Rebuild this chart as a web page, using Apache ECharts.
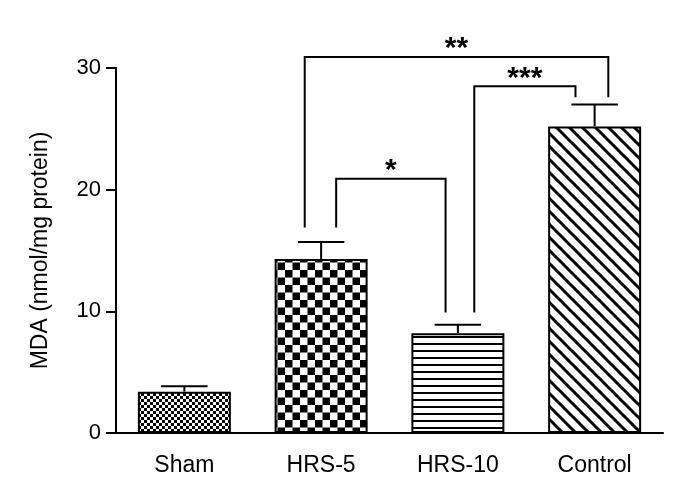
<!DOCTYPE html>
<html>
<head>
<meta charset="utf-8">
<script src="https://cdn.jsdelivr.net/npm/echarts@6/dist/echarts.min.js"></script>
<style>
  html, body { margin: 0; padding: 0; background: #fff; }
  #main { width: 699px; height: 496px; }
</style>
</head>
<body>
<div id="main"></div>
<script>
  // groups and MDA values (nmol/mg protein)
  var categories = ['Sham', 'HRS-5', 'HRS-10', 'Control'];
  var means = [3.4, 14.3, 8.2, 25.2];
  var sem = [0.45, 1.4, 0.7, 1.8];
  var yTicks = [0, 10, 20, 30];

  // significance brackets (x in category units, y in data units)
  var bracketLabels = ['*', '***', '**'];
  var bracketLeftX = [1.11, 2.12, 0.88];
  var bracketRightX = [1.91, 2.86, 3.10];
  var bracketTop = [20.9, 28.5, 30.9];
  var bracketLeftEnd = [16.9, 9.9, 16.9];
  var bracketRightEnd = [9.9, 27.6, 27.6];

  var font = '"Liberation Sans", Arial, sans-serif';

  // fill patterns
  function makeTile(w, h, draw) {
    var c = document.createElement('canvas');
    c.width = w; c.height = h;
    var ctx = c.getContext('2d');
    ctx.fillStyle = '#fff';
    ctx.fillRect(0, 0, w, h);
    ctx.fillStyle = '#000';
    ctx.strokeStyle = '#000';
    draw(ctx);
    return { image: c, repeat: 'repeat' };
  }
  var patterns = [
    makeTile(6, 6, function (ctx) { // fine checker
      ctx.fillRect(0, 0, 3, 3);
      ctx.fillRect(3, 3, 3, 3);
    }),
    makeTile(15, 15, function (ctx) { // coarse checker
      ctx.fillRect(0, 0, 7.5, 7.5);
      ctx.fillRect(7.5, 7.5, 7.5, 7.5);
    }),
    makeTile(8, 7.5, function (ctx) { // horizontal lines
      ctx.fillRect(0, 0, 8, 2);
    }),
    makeTile(13, 13, function (ctx) { // diagonal lines
      ctx.lineWidth = 3;
      [-13, 0, 13].forEach(function (o) {
        ctx.beginPath();
        ctx.moveTo(o - 2, -2);
        ctx.lineTo(o + 15, 15);
        ctx.stroke();
      });
    })
  ];

  var barData = means.map(function (v, i) {
    return { value: v, itemStyle: { color: patterns[i] } };
  });
  var errData = means.map(function (v, i) { return [i, v, v + sem[i]]; });
  var bracketData = bracketLabels.map(function (l, i) {
    return [Math.round(bracketLeftX[i]), bracketLeftX[i], bracketRightX[i],
      bracketTop[i], bracketLeftEnd[i], bracketRightEnd[i]];
  });

  var myChart = echarts.init(document.getElementById('main'));
  var option = {
    animation: false,
    backgroundColor: '#fff',
    grid: { left: 116, right: 36, top: 68, bottom: 63 },
    xAxis: {
      type: 'category',
      data: categories,
      axisLine: { lineStyle: { color: '#000', width: 2 } },
      axisTick: { alignWithLabel: true, length: 10, lineStyle: { color: '#000', width: 2 } },
      axisLabel: { color: '#000', fontSize: 23, fontFamily: font, margin: 21 }
    },
    yAxis: {
      type: 'value',
      min: 0,
      max: 30,
      interval: 10,
      name: 'MDA (nmol/mg protein)',
      nameLocation: 'middle',
      nameGap: 64,
      nameTextStyle: { color: '#000', fontSize: 23, fontFamily: font },
      axisLine: { show: true, lineStyle: { color: '#000', width: 2 } },
      axisTick: { show: true, length: 10, lineStyle: { color: '#000', width: 2 } },
      axisLabel: {
        color: '#000', fontSize: 22, fontFamily: font, margin: 15,
        formatter: function (v) { return yTicks.indexOf(v) >= 0 ? String(v) : ''; }
      },
      splitLine: { show: false }
    },
    series: [
      {
        type: 'custom',
        name: 'error',
        z: 1,
        data: errData,
        encode: { x: 0, y: [1, 2] },
        renderItem: function (params, api) {
          var p = api.coord([api.value(0), api.value(1)]);
          var q = api.coord([api.value(0), api.value(2)]);
          var half = api.size([1, 0])[0] * 0.17;
          var st = { stroke: '#000', lineWidth: 2 };
          return {
            type: 'group',
            children: [
              { type: 'line', shape: { x1: p[0], y1: p[1], x2: q[0], y2: q[1] }, style: st },
              { type: 'line', shape: { x1: q[0] - half, y1: q[1], x2: q[0] + half, y2: q[1] }, style: st }
            ]
          };
        }
      },
      {
        type: 'bar',
        name: 'MDA',
        z: 2,
        barWidth: '68%',
        data: barData,
        itemStyle: { borderColor: '#000', borderWidth: 2 }
      },
      {
        type: 'custom',
        name: 'significance',
        clip: false,
        z: 3,
        data: bracketData,
        encode: { x: 0, y: 3 },
        renderItem: function (params, api) {
          var base = api.coord([0, api.value(3)]);
          var band = api.size([1, 0])[0];
          var xl = base[0] + api.value(1) * band;
          var xr = base[0] + api.value(2) * band;
          var yt = base[1];
          var yl = api.coord([0, api.value(4)])[1];
          var yr = api.coord([0, api.value(5)])[1];
          return {
            type: 'group',
            children: [
              {
                type: 'polyline',
                shape: { points: [[xl, yl], [xl, yt], [xr, yt], [xr, yr]] },
                style: { stroke: '#000', lineWidth: 2, fill: null }
              },
              {
                type: 'text',
                x: (xl + xr) / 2,
                y: yt - 8,
                style: {
                  text: bracketLabels[params.dataIndex],
                  fill: '#000',
                  font: 'bold 30px ' + font,
                  align: 'center',
                  verticalAlign: 'middle'
                }
              }
            ]
          };
        }
      }
    ]
  };
  myChart.setOption(option);
</script>
</body>
</html>
